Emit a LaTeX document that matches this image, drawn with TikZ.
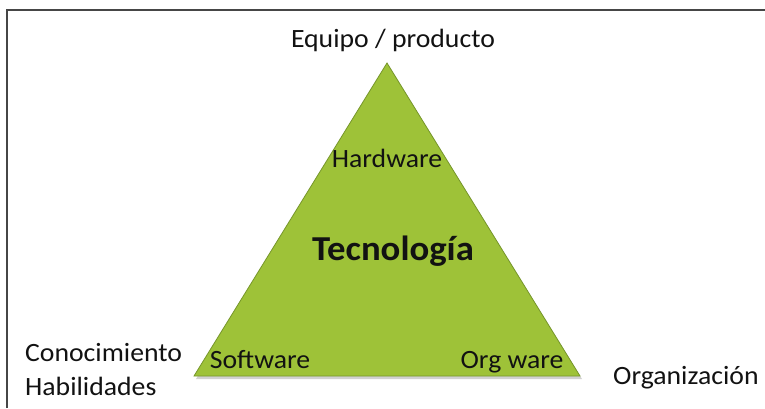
\documentclass[tikz,border=0pt]{standalone}
\usepackage{fontspec}
\setmainfont{Carlito}[FakeStretch=1.05]
\definecolor{leaf}{RGB}{158,194,56}
\definecolor{leafedge}{RGB}{118,150,42}
\definecolor{ink}{RGB}{18,18,18}
\definecolor{framegray}{RGB}{70,70,70}
\begin{document}
\begin{tikzpicture}[x=1pt,y=-1pt,
  label/.style={inner sep=0pt,text=ink,font=\fontsize{26.4}{31}\selectfont},
  title/.style={inner sep=0pt,text=ink,font=\fontsize{35}{41}\selectfont\bfseries}]
\useasboundingbox (0,0) rectangle (765,408);
\fill[white] (0,0) rectangle (765,408);
% frame: left and top edges only
\draw[framegray,line width=1.5pt] (7,408) -- (7,10) -- (765,10);
% triangle corners
\coordinate (apex) at (387,63);
\coordinate (bl) at (194,376);
\coordinate (br) at (580,376);
% soft drop shadow
\fill[black,opacity=0.18] ([shift={(2,3)}]apex) -- ([shift={(2,3)}]bl) -- ([shift={(2,3)}]br) -- cycle;
\filldraw[fill=leaf,draw=leafedge,line width=0.8pt] (apex) -- (bl) -- (br) -- cycle;
% texts
\node[label,anchor=base] (equipo) at (393,47) {Equipo / producto};
\node[label,anchor=base] (hard) at (387,167) {Hardware};
\node[title,anchor=base] (tec) at (393,260) {Tecnología};
\node[label,anchor=base] (soft) at (260,368) {Software};
\node[label,anchor=base] (org) at (512,368) {Org ware};
\node[label,anchor=base west] (cono) at (25,361) {Conocimiento};
\node[label,anchor=base west] (habil) at (25,395) {Habilidades};
\node[label,anchor=base west] (organiz) at (613,384) {Organización};
\end{tikzpicture}
\end{document}
